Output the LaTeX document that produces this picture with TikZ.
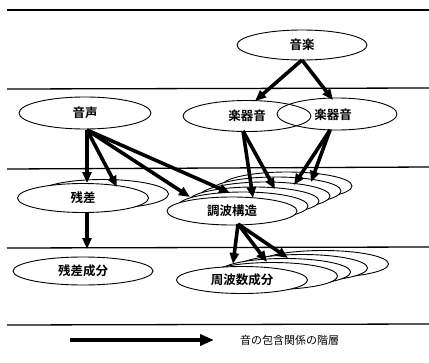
\documentclass[tikz,border=0pt]{standalone}
\usepackage{fontspec}
\setmainfont{Noto Sans CJK JP}[BoldFont={Noto Sans CJK JP Bold}]
\usetikzlibrary{arrows.meta,shapes.geometric}
\tikzset{
  layer/.style={line width=1.3pt},
  el/.style={ellipse,draw,line width=0.9pt,inner sep=0pt,font=\bfseries\fontsize{12.5}{14}\selectfont},
  elw/.style={el,fill=white},
  arr/.style={line width=3.6pt,-{Triangle[length=11pt,width=9pt]}},
}
\begin{document}
\begin{tikzpicture}[x=1pt,y=-1pt]
\useasboundingbox (0,0) rectangle (429,362);
% layer lines
\coordinate (l1a) at (7,10);   \coordinate (l1b) at (429,10);
\coordinate (l2a) at (7,89);   \coordinate (l2b) at (429,88);
\coordinate (l3a) at (7,169);  \coordinate (l3b) at (429,167);
\coordinate (l4a) at (7,248);  \coordinate (l4b) at (429,247);
\coordinate (l5a) at (7,325);  \coordinate (l5b) at (429,324);
\foreach \n in {1,...,5} \draw[layer] (l\n a) -- (l\n b);
% top
\node[el,minimum width=130pt,minimum height=30pt] (ongaku) at (302,45) {音楽};
\node[el,minimum width=120pt,minimum height=32pt] (gakki2) at (337,114) {};
\node[inner sep=0pt,font=\bfseries\fontsize{12.5}{14}\selectfont] (gakki2t) at (333,115) {楽器音};
\node[el,minimum width=128pt,minimum height=31pt] (gakki1) at (247,116) {楽器音};
\node[el,minimum width=132pt,minimum height=32pt] (onsei) at (85,113) {音声};
% zansa stack
\node[elw,minimum width=131pt,minimum height=29pt] (zansab) at (103,194) {};
\node[elw,minimum width=131pt,minimum height=29pt] (zansa) at (83,198) {残差};
% harmonic stack
\foreach \k in {5,4,3,2,1}
  \node[elw,minimum width=130pt,minimum height=28pt] (chob\k) at (232+11*\k,211-5*\k) {};
\node[elw,minimum width=130pt,minimum height=28pt] (cho) at (232,211) {調波構造};
% bottom
\node[el,minimum width=140pt,minimum height=28pt] (zansei) at (83,271) {残差成分};
\node[elw,minimum width=131pt,minimum height=27pt] (shub4) at (323,264) {};
\node[elw,minimum width=131pt,minimum height=27pt] (shub3) at (302,268) {};
\node[elw,minimum width=131pt,minimum height=27pt] (shub2) at (285,272) {};
\node[elw,minimum width=131pt,minimum height=27pt] (shub1) at (272,276) {};
\node[elw,minimum width=131pt,minimum height=27pt] (shu) at (242,280) {周波数成分};
% arrow end points
\coordinate (o0) at (302,60);
\coordinate (g1s) at (243,131);
\coordinate (g2s) at (330,130);
\coordinate (os) at (87,130);
\coordinate (cs) at (238,224);
\coordinate (zs) at (87,212);
\coordinate (t1) at (255,101);
\coordinate (t2) at (333,100);
\coordinate (t3) at (87,183);
\coordinate (t4) at (117,187);
\coordinate (t5) at (190,197);
\coordinate (t6) at (230,193);
\coordinate (t7) at (253,198);
\coordinate (t8) at (275,189);
\coordinate (t9) at (294,185);
\coordinate (t10) at (311,182);
\coordinate (t11) at (233,264);
\coordinate (t12) at (267,262);
\coordinate (t13) at (288,258);
\coordinate (t14) at (87,249);
% arrows
\draw[arr] (o0) -- (t1);
\draw[arr] (o0) -- (t2);
\draw[arr] (os) -- (t3);
\draw[arr] (os) -- (t4);
\draw[arr] (os) -- (t5);
\draw[arr] (os) -- (t6);
\draw[arr] (g1s) -- (t7);
\draw[arr] (g1s) -- (t8);
\draw[arr] (g2s) -- (t9);
\draw[arr] (g2s) -- (t10);
\draw[arr] (cs) -- (t11);
\draw[arr] (cs) -- (t12);
\draw[arr] (cs) -- (t13);
\draw[arr] (zs) -- (t14);
% legend
\coordinate (la) at (70,340);
\coordinate (lb) at (214,340);
\draw[line width=4.5pt,-{Triangle[length=14pt,width=11pt]}] (la) -- (lb);
\node[font=\fontsize{11}{13}\selectfont,anchor=west,inner sep=0pt] (leg) at (240,340) {音の包含関係の階層};
\end{tikzpicture}
\end{document}
